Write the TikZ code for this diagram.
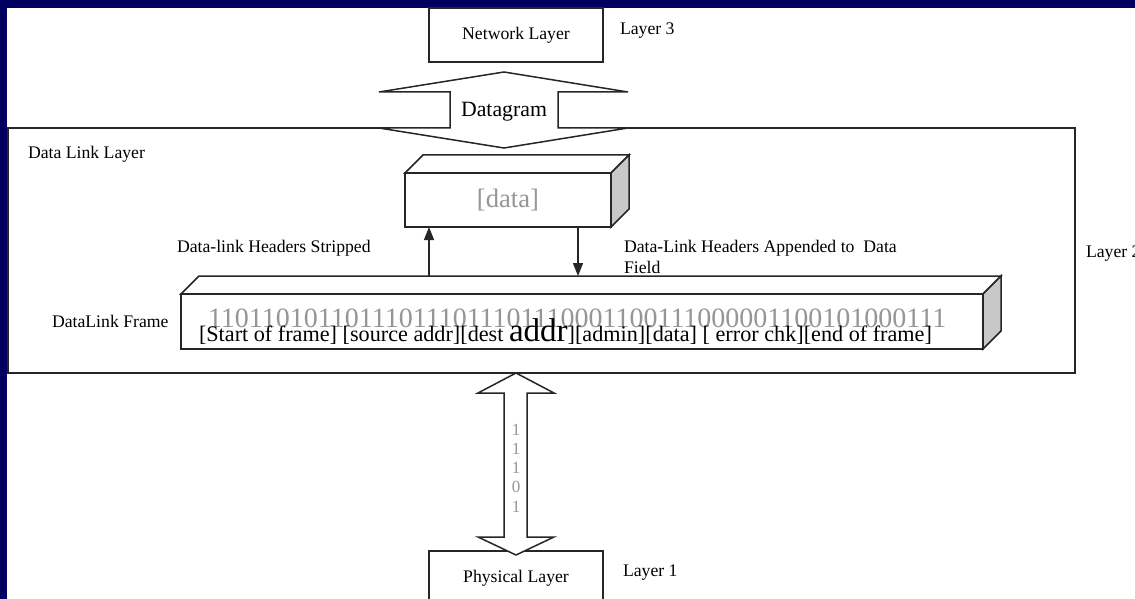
\documentclass[tikz,border=0pt]{standalone}
\usepackage{fontspec}
\setmainfont{Liberation Serif}
\usetikzlibrary{calc,arrows.meta}

\definecolor{slidenavy}{RGB}{0,0,96}
\definecolor{bitgrey}{RGB}{150,150,150}
\definecolor{sidegrey}{RGB}{200,200,200}

\begin{document}
\begin{tikzpicture}[x=1pt,y=-1pt,inner sep=0pt,outer sep=0pt,
    every node/.style={font=\fontsize{17.7}{21}\selectfont},
    edge/.style={line width=1.5pt, draw=black!85},
    layerbox/.style={edge, fill=white, minimum width=174pt, minimum height=54pt},
    slabface/.style={edge, fill=white},
    slabside/.style={edge, fill=sidegrey},
    tip/.style={line width=1.3pt, draw=black!85, -{Triangle[width=10pt,length=13pt]}}]
    % slide background
    \useasboundingbox (0,0) rectangle (1135,599);
    \fill[slidenavy] (0,0) rectangle (1135,599);
    \fill[white] (7,8) rectangle (1135,599);

    % layer 3
    \node[layerbox] (net) at (516,35) {Network Layer};
    \node[anchor=base west] (l3) at (620,35) {Layer 3};

    % layer 2 frame
    \node[edge, minimum width=1067pt, minimum height=245pt] (dll) at (541.5,250.5) {};
    \node[anchor=base west] (dlltitle) at (28,158) {Data Link Layer};
    \node[anchor=base west] (l2) at (1086,257) {Layer 2};

    % datagram passed up / down
    \draw[edge, fill=white] (504,72) -- (628,92) -- (558,92) -- (558,128) -- (628,128)
        -- (504,148) -- (379,128) -- (450,128) -- (450,92) -- (379,92) -- cycle;
    \node[font=\fontsize{21.8}{24}\selectfont] (dgram) at (504,112) {Datagram};

    % payload slab
    \draw[slabface] (405,173) -- ++(18,-18) -- ++(206,0) -- ++(-18,18) -- cycle;
    \draw[slabside] (611,173) -- ++(18,-18) -- ++(0,54) -- ++(-18,18) -- cycle;
    \node[edge, fill=white, minimum width=206pt, minimum height=54pt,
          text=bitgrey, font=\fontsize{26.6}{30}\selectfont] (payload) at (508,200) {[data]};

    % frame slab
    \draw[slabface] (181,294) -- ++(18,-18) -- ++(802,0) -- ++(-18,18) -- cycle;
    \draw[slabside] (983,294) -- ++(18,-18) -- ++(0,55) -- ++(-18,18) -- cycle;
    \node[edge, fill=white, minimum width=802pt, minimum height=55pt] (frame) at (582,321.5) {};
    \node[anchor=base west, text=bitgrey, font=\fontsize{28}{30}\selectfont] (bits) at (208,327)
        {110110101101110111011101110001100111000001100101000111};
    \node[anchor=base west, font=\fontsize{22.2}{24}\selectfont] (fields) at (199,341)
        {[Start of frame] [source addr][dest {\fontsize{33}{35}\selectfont addr}][admin][data] [ error chk][end of frame]};
    \node[anchor=base west] (framename) at (52,327) {DataLink Frame};

    % headers stripped / appended
    \coordinate (upfoot) at (429,276);
    \coordinate (downfoot) at (578,276);
    \draw[tip] (upfoot) -- (upfoot |- payload.south);
    \draw[tip] (downfoot |- payload.south) -- (downfoot);
    \node[anchor=base west] (strip) at (177,252) {Data-link Headers Stripped};
    \node[anchor=north west, align=left] (append) at (624,240)
        {Data-Link Headers Appended to~ Data\\Field};

    % layer 1
    \node[layerbox] (phy) at (516,578) {Physical Layer};
    \node[anchor=base west] (l1) at (623,576) {Layer 1};

    % bit stream
    \draw[edge, fill=white] (phy.north |- dll.south) -- ++(38,20) -- ++(-27,0) -- ++(0,144)
        -- ++(27,0) -- ++(-38,18) -- ++(-38,-18) -- ++(26,0) -- ++(0,-144) -- ++(-26,0) -- cycle;
    \node[text=bitgrey, align=center, font=\fontsize{17}{19.2}\selectfont] (stream) at (516,468)
        {1\\1\\1\\0\\1};
\end{tikzpicture}
\end{document}
